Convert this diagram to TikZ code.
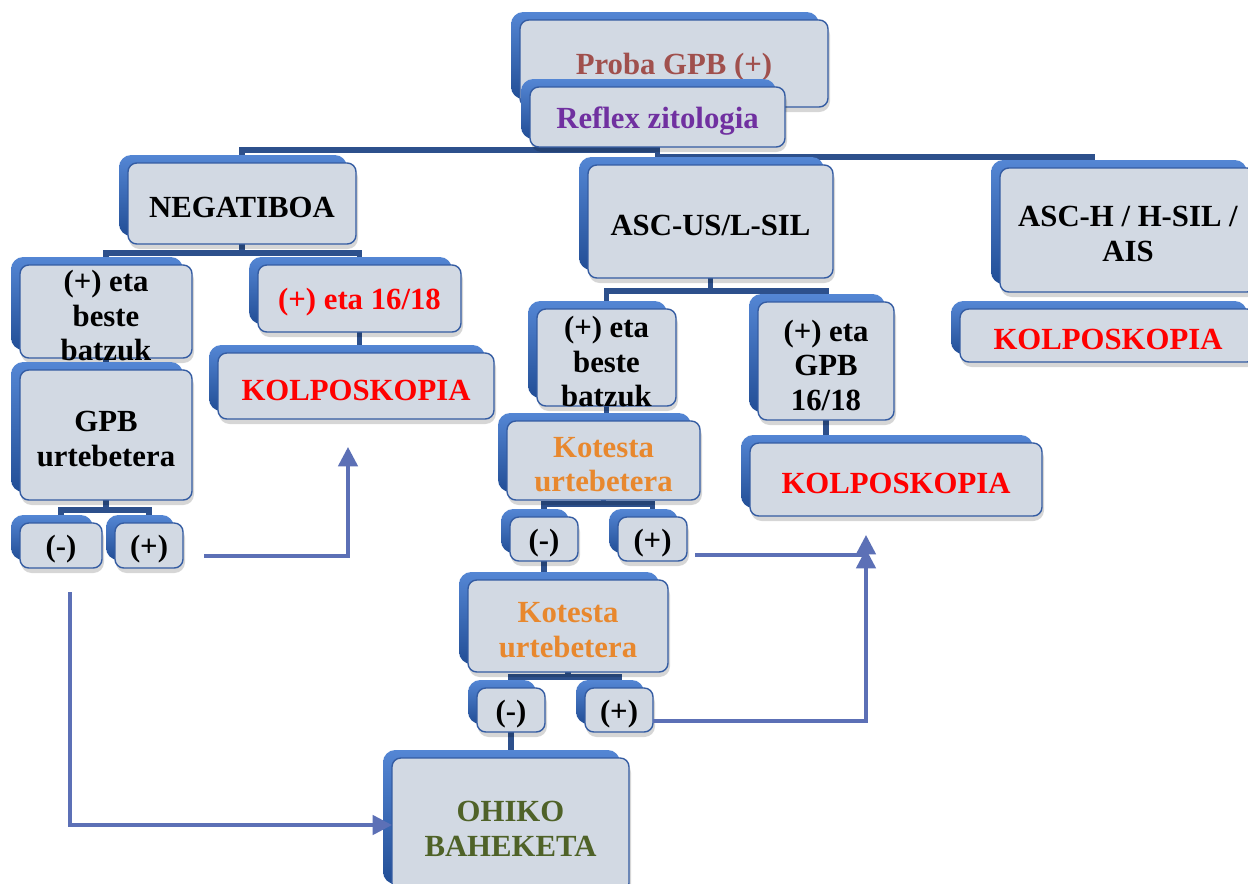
\documentclass[tikz,border=0pt]{standalone}
\usepackage{fontspec}
\setmainfont{Liberation Serif}
\usetikzlibrary{arrows.meta,calc}
\pgfdeclarelayer{bg}
\pgfsetlayers{bg,main}
\definecolor{backblue}{RGB}{34,78,150}
\definecolor{backtop}{RGB}{84,134,212}
\definecolor{frontfill}{RGB}{210,217,227}
\definecolor{frontdraw}{RGB}{52,92,162}
\definecolor{treeblue}{RGB}{45,80,140}
\definecolor{arrblue}{RGB}{92,112,182}
\definecolor{probacol}{RGB}{160,80,77}
\definecolor{reflexcol}{RGB}{112,48,160}
\definecolor{kolred}{RGB}{255,0,0}
\definecolor{kotcol}{RGB}{232,136,46}
\definecolor{ohikocol}{RGB}{79,98,40}
\tikzset{
  frontbox/.style={draw=frontdraw,fill=frontfill,line width=0.8pt,rounded corners=5pt,
    inner sep=0pt,outer sep=0pt},
  boxtext/.style={inner sep=0pt,align=center,font=\fontsize{17.5}{19.6}\selectfont\bfseries},
  tree/.style={draw=treeblue,line width=3pt},
  arr/.style={draw=arrblue,line width=2pt,-{Triangle[length=11pt,width=11pt]}}
}
\newcommand\bx[7]{%
  \shade[top color=backtop,bottom color=backblue,rounded corners=7pt] ({#2-9},{#3-8}) rectangle ({#4-9},{#5-8});
  \fill[black,opacity=.16,rounded corners=6pt] ({#2+1},{#3+4}) rectangle ({#4+2},{#5+5});
  \node[frontbox,minimum width={(#4-#2)*0.02cm},minimum height={(#5-#3)*0.02cm}] (#1) at ({(#2+#4)/2},{(#3+#5)/2}) {};
  \node[boxtext,text=#6,yshift=-2.3pt] (#1-t) at (#1.center) {#7};
}
\begin{document}
\begin{tikzpicture}[x=0.02cm,y=-0.02cm]
\begin{pgfonlayer}{bg}
\fill[white] (0,0) rectangle (1248,883);
\end{pgfonlayer}
\useasboundingbox (0,0) rectangle (1248,883);

% boxes
\bx{proba}{520}{20}{828}{107}{probacol}{Proba GPB (+)}
\bx{reflex}{530}{87}{785}{147}{reflexcol}{Reflex zitologia}
\bx{neg}{128}{163}{356}{244}{black}{NEGATIBOA}
\bx{ascus}{588}{165}{833}{278}{black}{ASC-US/L-SIL}
\bx{asch}{1000}{168}{1256}{292}{black}{ASC-H / H-SIL /\\AIS}
\bx{kolR}{960}{309}{1256}{362}{kolred}{KOLPOSKOPIA}
\bx{bbL}{20}{265}{192}{358}{black}{(+) eta\\beste\\batzuk}
\bx{eL}{258}{265}{461}{332}{kolred}{(+) eta 16/18}
\bx{gpbL}{20}{370}{192}{500}{black}{GPB\\urtebetera}
\bx{kolL}{218}{353}{494}{419}{kolred}{KOLPOSKOPIA}
\bx{mL}{20}{523}{102}{568}{black}{(-)}
\bx{pL}{115}{523}{183}{568}{black}{(+)}
\bx{bbM}{537}{309}{676}{406}{black}{(+) eta\\beste\\batzuk}
\bx{gM}{758}{302}{894}{420}{black}{(+) eta\\GPB\\16/18}
\bx{kot1}{507}{421}{700}{500}{kotcol}{Kotesta\\urtebetera}
\bx{kolM}{750}{443}{1042}{516}{kolred}{KOLPOSKOPIA}
\bx{mM}{510}{517}{578}{561}{black}{(-)}
\bx{pM}{618}{517}{687}{561}{black}{(+)}
\bx{kot2}{468}{580}{668}{672}{kotcol}{Kotesta\\urtebetera}
\bx{mB}{477}{688}{545}{732}{black}{(-)}
\bx{pB}{585}{688}{653}{732}{black}{(+)}
\bx{ohiko}{392}{758}{629}{892}{ohikocol}{OHIKO\\BAHEKETA}

% tree connectors
\begin{pgfonlayer}{bg}
\draw[tree] (reflex.south) -- ++(0,3) -| (neg.north);
\draw[tree] (reflex.south) -- ++(0,10) -| ($(asch.north)+(-36,0)$);
\draw[tree] (reflex.south) -- ++(0,10) -| (ascus.north);
\draw[tree] (neg.south) -- ++(0,9) -| (bbL.north);
\draw[tree] (neg.south) -- ++(0,9) -| (eL.north);
\draw[tree] (eL.south) -- (eL.south |- kolL.north);
\draw[tree] (bbL.south) -- (gpbL.north);
\draw[tree] (gpbL.south) -- ++(0,10) -| (mL.north);
\draw[tree] (gpbL.south) -- ++(0,10) -| (pL.north);
\draw[tree] (ascus.south) -- ++(0,13) -| (bbM.north);
\draw[tree] (ascus.south) -- ++(0,13) -| (gM.north);
\draw[tree] (bbM.south) -- (bbM.south |- kot1.north);
\draw[tree] (gM.south) -- (gM.south |- kolM.north);
\draw[tree] (kot1.south) -- ++(0,4) -| (mM.north);
\draw[tree] (kot1.south) -- ++(0,4) -| (pM.north);
\draw[tree] (mM.south) -- (mM.south |- kot2.north);
\draw[tree] (kot2.south) -- ++(0,5) -| (mB.north);
\draw[tree] (kot2.south) -- ++(0,5) -| (pB.north);
\draw[tree] (mB.south) -- (mB.south |- ohiko.north);
\draw[tree] ($(asch.south)+(-36,0)$) -- ($(asch.south)+(-36,0)$ |- kolR.north);
\end{pgfonlayer}

% arrows
\coordinate (a1s) at (204,556);
\coordinate (a1e) at (348,447);
\draw[arr] (a1s) -| (a1e);
\coordinate (a2s) at (70,592);
\draw[arr] (a2s) |- (ohiko.west);
\coordinate (a3s) at (695,555);
\coordinate (a3e) at (866,549);
\coordinate (a4e) at (866,535);
\draw[arr] (a3s) -| (a3e);
\draw[arr] ($(pB.east)+(0,11)$) -| (a4e);
\end{tikzpicture}
\end{document}
